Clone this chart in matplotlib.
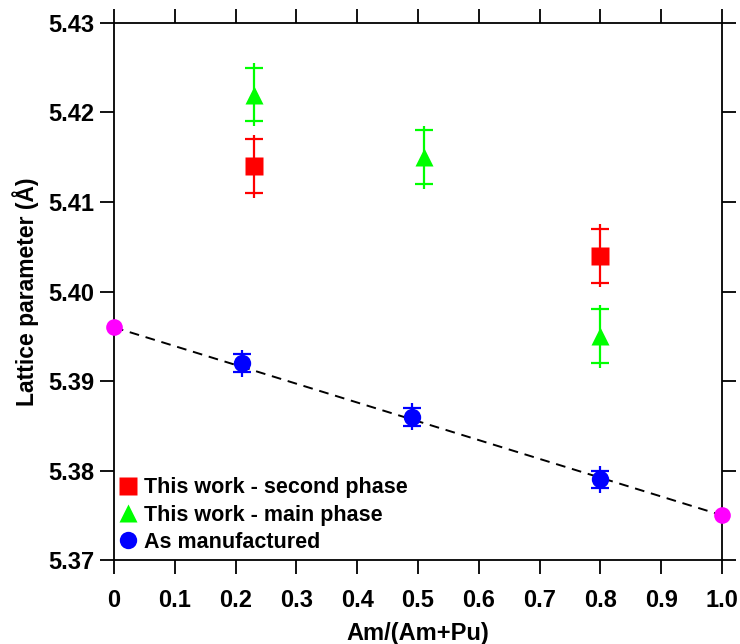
import numpy as np
import matplotlib.pyplot as plt

plt.rcParams['font.family'] = ['Liberation Sans', 'DejaVu Sans']
plt.rcParams['font.weight'] = 'bold'

# data
x_second = [0.23, 0.80]
y_second = [5.414, 5.404]
e_second = [0.003, 0.003]

x_main = [0.23, 0.51, 0.80]
y_main = [5.422, 5.415, 5.395]
e_main = [0.003, 0.003, 0.003]

x_manuf = [0.21, 0.49, 0.80]
y_manuf = [5.392, 5.386, 5.379]
e_manuf = [0.001, 0.001, 0.001]

x_end = [0.0, 1.0]
y_end = [5.396, 5.375]

fig = plt.figure(figsize=(7.4, 6.44), dpi=100)
ax = fig.add_axes([0.154, 0.1304, 0.8216, 0.8339])

ax.plot(x_end, y_end, '--', color='black', lw=1.4, dashes=(5, 3.5), zorder=1)
ax.plot(x_end, y_end, 'o', color='#ff00ff', ms=12, mec='none', clip_on=False, zorder=3)


def plot_series(x, y, e, marker, color, label):
    x = np.array(x)
    y = np.array(y)
    e = np.array(e)
    over = 0.0005  # error line sticks out a little past the cap
    ax.vlines(x, y - e - over, y + e + over, color=color, lw=1.6, zorder=2)
    ax.plot(np.r_[x, x], np.r_[y - e, y + e], '_', color=color, ms=13, mew=1.6, zorder=2)
    ax.plot(x, y, marker, color=color, ms=12.5, mec='none', zorder=3, label=label)


plot_series(x_second, y_second, e_second, 's', 'red', 'This work - second phase')
plot_series(x_main, y_main, e_main, '^', '#00ff00', 'This work - main phase')
plot_series(x_manuf, y_manuf, e_manuf, 'o', 'blue', 'As manufactured')

ax.set_xlim(0, 1.0)
ax.set_ylim(5.37, 5.43)
ax.set_xticks(np.arange(0, 1.01, 0.1))
ax.set_xticklabels(['0', '0.1', '0.2', '0.3', '0.4', '0.5', '0.6', '0.7', '0.8', '0.9', '1.0'])
yt = np.arange(5.37, 5.4301, 0.01)
ax.set_yticks(yt)
ax.set_yticklabels(['%.2f' % v for v in yt])

ax.tick_params(direction='out', length=10, width=1.3, labelsize=17,
               top=True, right=True, pad=4)
ax.tick_params(axis='x', pad=11)
for s in ax.spines.values():
    s.set_linewidth(1.3)

ax.set_xlabel('Am/(Am+Pu)', fontsize=17, fontweight='bold', labelpad=7)
ax.set_ylabel('Lattice parameter (Å)', fontsize=16.5, fontweight='bold', labelpad=7)

ax.legend(loc='lower left', frameon=False, fontsize=15.5,
          handletextpad=0.25, handlelength=1.0, borderaxespad=0.2,
          labelspacing=0.3, bbox_to_anchor=(-0.0164, -0.011))

fig.savefig('out.png', dpi=100)
